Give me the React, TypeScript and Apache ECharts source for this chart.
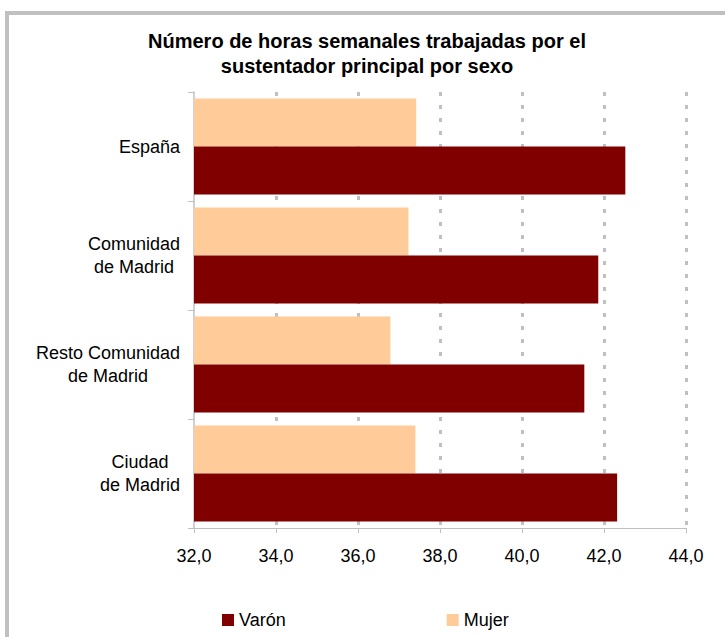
import React, { useEffect, useRef } from "react";
import * as echarts from "echarts";

const titleLines = ["Número de horas semanales trabajadas por el", "sustentador principal por sexo"];
const categories = ["España", "Comunidad\nde Madrid", "Resto Comunidad\nde Madrid", "Ciudad\nde Madrid"];
const seriesNames = ["Varón", "Mujer"];
const varonValues = [42.52, 41.86, 41.52, 42.32];
const mujerValues = [37.42, 37.23, 36.79, 37.4];
const axisMin = 32;
const axisMax = 44;
const axisStep = 2;

const FONT = "'Liberation Sans', Arial, Helvetica, sans-serif";

export default function App() {
  const ref = useRef<HTMLDivElement | null>(null);

  useEffect(() => {
    if (!ref.current) return;
    const chart = echarts.init(ref.current, undefined, { renderer: "svg" });
    chart.setOption({
      animation: false,
      backgroundColor: "#ffffff",
      textStyle: { fontFamily: FONT },
      graphic: [
        {
          type: "rect",
          shape: { x: 7, y: 13, width: 800, height: 700 },
          style: { fill: "none", stroke: "#c0c0c0", lineWidth: 4 },
          silent: true,
          z: 0,
        },
      ],
      title: {
        text: titleLines.join("\n"),
        left: 367,
        top: 28,
        textAlign: "center",
        padding: 0,
        textStyle: {
          fontFamily: FONT,
          fontSize: 20,
          fontWeight: "bold",
          color: "#000",
          lineHeight: 25,
        },
      },
      legend: {
        data: seriesNames,
        left: 222,
        top: 611,
        padding: 0,
        itemWidth: 12,
        itemHeight: 12,
        itemGap: 161,
        icon: "rect",
        textStyle: { fontFamily: FONT, fontSize: 18, color: "#000", lineHeight: 18 },
      },
      grid: { left: 194, right: 39, top: 92, bottom: 109 },
      xAxis: {
        type: "value",
        min: axisMin,
        max: axisMax,
        interval: axisStep,
        axisLine: { show: true, lineStyle: { color: "#c0c0c0", width: 1 } },
        axisTick: { show: true, length: 5, lineStyle: { color: "#c0c0c0" } },
        axisLabel: {
          margin: 19,
          fontFamily: FONT,
          fontSize: 18,
          lineHeight: 18,
          color: "#000",
          formatter: (v: number) => v.toFixed(1).replace(".", ","),
        },
        splitLine: {
          show: true,
          showMinLine: false,
          lineStyle: { color: "#c0c0c0", width: 3, type: [4, 9] },
        },
      },
      yAxis: {
        type: "category",
        inverse: true,
        data: categories,
        axisLine: { show: true, lineStyle: { color: "#c0c0c0", width: 1.5 } },
        axisTick: { show: true, length: 6, lineStyle: { color: "#c0c0c0" } },
        axisLabel: {
          margin: 14,
          fontFamily: FONT,
          fontSize: 18,
          lineHeight: 23,
          color: "#000",
          align: "right",
          formatter: (v: string) =>
            v
              .split("\n")
              .map((l) => `{c|${l}}`)
              .join("\n"),
          rich: {
            c: {
              align: "center",
              fontFamily: FONT,
              fontSize: 18,
              lineHeight: 23,
              color: "#000",
            },
          },
        },
      },
      series: [
        {
          name: "Mujer",
          type: "bar",
          data: mujerValues,
          itemStyle: { color: "#FFCC99" },
          barGap: "0%",
          barCategoryGap: "12%",
        },
        {
          name: "Varón",
          type: "bar",
          data: varonValues,
          itemStyle: { color: "#800000" },
          barGap: "0%",
          barCategoryGap: "12%",
        },
      ],
    });
    return () => chart.dispose();
  }, []);

  return (
    <div
      ref={ref}
      style={{ position: "absolute", left: 0, top: 0, width: 725, height: 637 }}
    />
  );
}
